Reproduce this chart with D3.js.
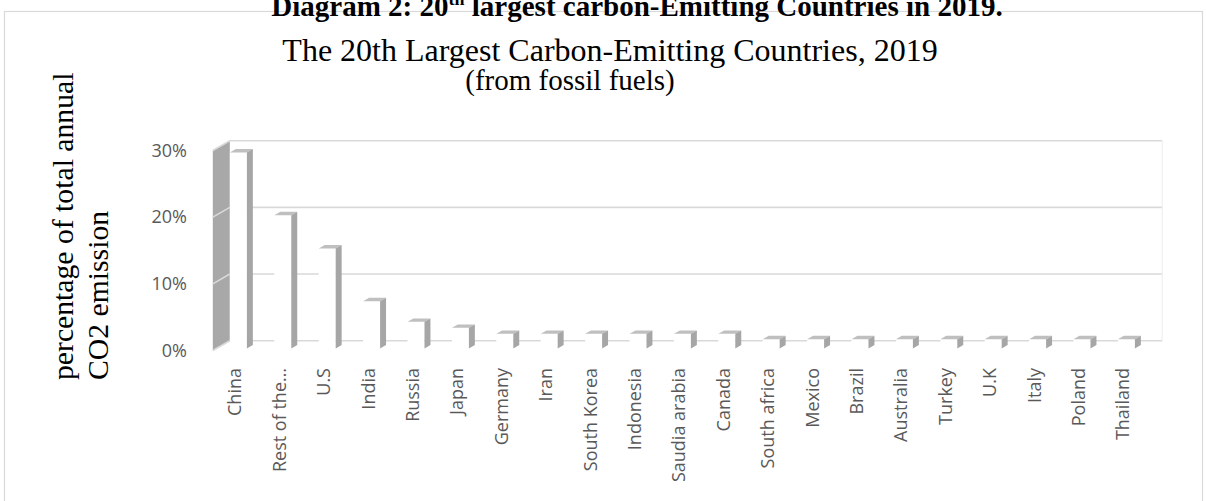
<!DOCTYPE html>
<html><head><meta charset="utf-8">
<script src="https://cdn.jsdelivr.net/npm/d3@7"></script>
<style>html,body{margin:0;padding:0;background:#fff;} svg{display:block}</style>
</head><body>
<svg id="chart" width="1206" height="501"></svg>
<script>
// Share of total annual CO2 emissions from fossil fuels, 2019 (%)
const categories = ["China", "Rest of the\u2026", "U.S", "India", "Russia", "Japan", "Germany", "Iran",
  "South Korea", "Indonesia", "Saudia arabia", "Canada", "South africa", "Mexico", "Brazil",
  "Australia", "Turkey", "U.K", "Italy", "Poland", "Thailand"];
const shares = [29.4, 20, 15, 7.1, 4, 3.1, 2.2, 2.2, 2.2, 2.2, 2.2, 2.2, 1.4, 1.4, 1.4, 1.4, 1.4, 1.4, 1.4, 1.4, 1.4];
const yTicks = [0, 10, 20, 30];
const yTickLabels = ["0%", "10%", "20%", "30%"];

const svg = d3.select("#chart");
const serif = "'Liberation Serif', 'Times New Roman', serif";
const sans = "'Open Sans', sans-serif";

// Oblique 3-D projection: depth z goes from 0 (front edge) to 1 (back wall)
const DX = 17, DY = 9.8;
const x = d3.scaleBand().domain(categories).range([212.8, 1145.2]).padding(0);
const y = d3.scaleLinear().domain([0, 30]).range([350.5, 150.5]);
const px = (xv, z) => xv + z * DX;
const py = (v, z) => y(v) - z * DY;
const xL = x.range()[0], xR = x.range()[1];

// outer frame
svg.append("rect").attr("x", 4.5).attr("y", 11.5).attr("width", 1198).attr("height", 520)
  .attr("fill", "none").attr("stroke", "#d9d9d9").attr("stroke-width", 1.2);

// figure caption
const cap = svg.append("text").attr("x", 637).attr("y", 16).attr("text-anchor", "middle")
  .attr("font-family", serif).attr("font-weight", "bold").attr("font-size", 29).attr("fill", "#000");
cap.append("tspan").text("Diagram 2: 20");
cap.append("tspan").attr("font-size", 18).attr("dy", -11).text("th");
cap.append("tspan").attr("dy", 11).text(" largest carbon-Emitting Countries in 2019.");

// chart title
const title = svg.append("text").attr("text-anchor", "middle").attr("font-family", serif).attr("fill", "#000");
title.append("tspan").attr("x", 610).attr("y", 61).attr("font-size", 32)
  .text("The 20th Largest Carbon-Emitting Countries, 2019");
title.append("tspan").attr("x", 570).attr("y", 90).attr("font-size", 29)
  .text("(from fossil fuels)");

// vertical axis title
const yTitle = svg.append("text").attr("transform", "rotate(-90)")
  .attr("font-family", serif).attr("font-size", 29.7).attr("fill", "#000").attr("text-anchor", "start");
yTitle.append("tspan").attr("x", -380).attr("y", 73).text("percentage of total annual");
yTitle.append("tspan").attr("x", -380).attr("y", 108).text("CO2 emission");

// back wall gridlines
svg.append("g").selectAll("line").data(yTicks).join("line")
  .attr("x1", px(xL, 1)).attr("x2", px(xR, 1))
  .attr("y1", d => py(d, 1)).attr("y2", d => py(d, 1))
  .attr("stroke", "#d9d9d9").attr("stroke-width", 1.6);
svg.append("line").attr("x1", px(xR, 1)).attr("x2", px(xR, 1))
  .attr("y1", py(0, 1)).attr("y2", py(30, 1)).attr("stroke", "#ececec").attr("stroke-width", 1);

// side wall
svg.append("polygon")
  .attr("points", [[px(xL, 0), py(0, 0)], [px(xL, 0), py(30, 0)], [px(xL, 1), py(30, 1)], [px(xL, 1), py(0, 1)]].join(" "))
  .attr("fill", "#a8a8a8");
svg.append("g").selectAll("line").data(yTicks).join("line")
  .attr("x1", px(xL, 0)).attr("x2", px(xL, 1))
  .attr("y1", d => py(d, 0)).attr("y2", d => py(d, 1))
  .attr("stroke", "#d9d9d9").attr("stroke-width", 1.6);

// columns
const z0 = 0.2, z1 = 0.55, colW = 17;
const bars = svg.append("g").selectAll("g").data(categories.map((c, i) => ({ c, v: shares[i] }))).join("g");
const left = d => x(d.c) + x.bandwidth() / 2 - colW / 2;
const right = d => left(d) + colW;
bars.append("rect")
  .attr("x", d => px(left(d), z0)).attr("y", d => py(d.v, z0))
  .attr("width", colW).attr("height", d => py(0, z0) - py(d.v, z0))
  .attr("fill", "#fff");
bars.append("polygon")
  .attr("points", d => [[px(left(d), z0), py(d.v, z0)], [px(right(d), z0), py(d.v, z0)],
    [px(right(d), z1), py(d.v, z1)], [px(left(d), z1), py(d.v, z1)]].join(" "))
  .attr("fill", "#bfbfbf");
bars.append("polygon")
  .attr("points", d => [[px(right(d), z0), py(d.v, z0)], [px(right(d), z1), py(d.v, z1)],
    [px(right(d), z1), py(0, z1)], [px(right(d), z0), py(0, z0)]].join(" "))
  .attr("fill", "#a6a6a6");

// value axis labels
svg.append("g").selectAll("text").data(yTicks).join("text")
  .attr("x", 187).attr("y", d => y(d)).attr("dy", "0.35em").attr("text-anchor", "end")
  .attr("font-family", sans).attr("font-size", 18).attr("fill", "#595959")
  .text((d, i) => yTickLabels[i]);

// category labels
svg.append("g").selectAll("text").data(categories).join("text")
  .attr("transform", d => `translate(${x(d) + x.bandwidth() / 2},368) rotate(-90)`)
  .attr("dy", "0.35em").attr("text-anchor", "end")
  .attr("font-family", sans).attr("font-size", 18).attr("fill", "#595959")
  .text(d => d);
</script>
</body></html>
